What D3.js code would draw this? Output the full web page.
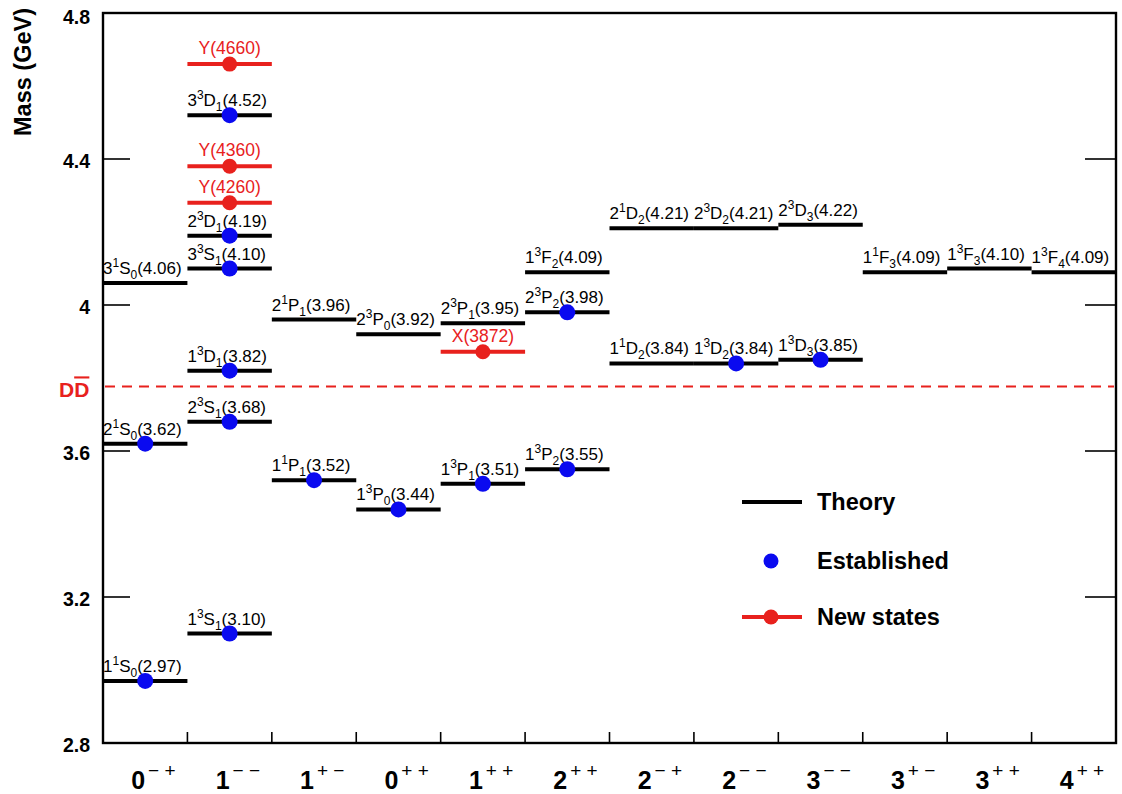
<!DOCTYPE html>
<html><head><meta charset="utf-8">
<script src="https://cdn.jsdelivr.net/npm/d3@7"></script>
<style>
html,body{margin:0;padding:0;background:#fff;}
text{font-family:Arial,"Liberation Sans",Helvetica,sans-serif;}
</style></head>
<body><svg id="c" width="1122" height="794"></svg>
<script>
// ---- data ----
const columns = ["0-+","1--","1+-","0++","1++","2++","2-+","2--","3--","3+-","3++","4++"];
const colJ = ["0","1","1","0","1","2","2","2","3","3","3","4"];
const colPC = ["\u2212 +","\u2212 \u2212","+ \u2212","+ +","+ +","+ +","\u2212 +","\u2212 \u2212","\u2212 \u2212","+ \u2212","+ +","+ +"];

// theory states
const thCol  = ["0-+","0-+","0-+","1--","1--","1--","1--","1--","1--","1+-","1+-","0++","0++","1++","1++","2++","2++","2++","2-+","2-+","2--","2--","3--","3--","3+-","3++","4++"];
const thN    = [1,2,3, 1,2,1,3,2,3, 1,2, 1,2, 1,2, 1,2,1, 1,2, 1,2, 1,2, 1,1,1];
const thS    = [1,1,1, 3,3,3,3,3,3, 1,1, 3,3, 3,3, 3,3,3, 1,1, 3,3, 3,3, 1,3,3];
const thL    = ["S","S","S","S","S","D","S","D","D","P","P","P","P","P","P","P","P","F","D","D","D","D","D","D","F","F","F"];
const thJ    = [0,0,0, 1,1,1,1,1,1, 1,1, 0,0, 1,1, 2,2,2, 2,2, 2,2, 3,3, 3,3,4];
const thMass = [2.97,3.62,4.06, 3.10,3.68,3.82,4.10,4.19,4.52, 3.52,3.96, 3.44,3.92, 3.51,3.95, 3.55,3.98,4.09, 3.84,4.21, 3.84,4.21, 3.85,4.22, 4.09,4.10,4.09];
const thEstablished = [true,true,false, true,true,true,true,true,true, true,false, true,false, true,false, true,true,false, false,false, true,false, true,false, false,false,false];

// new (exotic) states
const newNames = ["Y(4660)","Y(4360)","Y(4260)","X(3872)"];
const newCol   = ["1--","1--","1--","1++"];
const newMass  = [4.66,4.38,4.28,3.872];

const ddThreshold = 3.777;
const yTicks = [2.8,3.2,3.6,4.0,4.4,4.8];
const yTickLabels = ["2.8","3.2","3.6","4","4.4","4.8"];
const legendItems = ["Theory","Established","New states"];

// ---- layout ----
const L = 103, R = 1116, T = 13, B = 743;
const RED = "#e8211d", BLUE = "#0a0af0";
const svg = d3.select("#c");
const x = d3.scaleBand().domain(columns).range([L, R]).padding(0);
const y = d3.scaleLinear().domain([2.8, 4.8]).range([B, T]);

// frame
svg.append("rect").attr("x",L).attr("y",T).attr("width",R-L).attr("height",B-T)
  .attr("fill","none").attr("stroke","#000").attr("stroke-width",2.4);

// y ticks (inner, both sides)
const midTicks = yTicks.filter(v => v > 2.8 && v < 4.8);
svg.append("g").selectAll("line").data(midTicks).join("line")
  .attr("x1",L).attr("x2",L+27).attr("y1",d=>y(d)).attr("y2",d=>y(d))
  .attr("stroke","#000").attr("stroke-width",1.6);
svg.append("g").selectAll("line").data(midTicks).join("line")
  .attr("x1",R-31).attr("x2",R).attr("y1",d=>y(d)).attr("y2",d=>y(d))
  .attr("stroke","#000").attr("stroke-width",1.6);
svg.append("g").selectAll("text").data(yTicks).join("text")
  .attr("x",90).attr("y",(d)=>y(d)+ (d===4.8?11:9))
  .attr("text-anchor","end").attr("font-size",19.5).attr("font-weight","bold")
  .text((d,i)=>yTickLabels[i]);

// y label
svg.append("text").attr("transform","translate(31,8) rotate(-90)")
  .attr("text-anchor","end").attr("font-size",23.5).attr("font-weight","bold")
  .text("Mass (GeV)");

// x ticks at column boundaries
const bounds = columns.slice(1).map(c => x(c));
svg.append("g").selectAll("line").data(bounds).join("line")
  .attr("x1",d=>d).attr("x2",d=>d).attr("y1",B).attr("y2",B-11)
  .attr("stroke","#000").attr("stroke-width",1.6);

// x labels
const xl = svg.append("g").selectAll("text").data(columns).join("text")
  .attr("x",d=>x(d)+x.bandwidth()/2-14).attr("y",789)
  .attr("font-size",25).attr("font-weight","bold");
xl.append("tspan").text((d,i)=>colJ[i]);
xl.append("tspan").attr("dx",3).attr("dy",-12).attr("font-size",19).attr("font-weight","normal")
  .attr("xml:space","preserve").style("white-space","pre").text((d,i)=>colPC[i]);

// DD threshold
svg.append("line").attr("x1",L+2).attr("x2",R-2).attr("y1",y(ddThreshold)).attr("y2",y(ddThreshold))
  .attr("stroke",RED).attr("stroke-width",2).attr("stroke-dasharray","10,7");
const dd = svg.append("text").attr("x",59).attr("y",y(ddThreshold)+11)
  .attr("font-family","'DejaVu Serif','Liberation Serif',serif").attr("font-size",21)
  .attr("font-weight","bold").attr("fill",RED);
dd.append("tspan").text("D");
dd.append("tspan").attr("text-decoration","overline").style("text-decoration","overline").text("D");

// theory levels
const theory = thCol.map((c,i)=>({c, n:thN[i], s:thS[i], l:thL[i], j:thJ[i], m:thMass[i], est:thEstablished[i]}));
svg.append("g").selectAll("line").data(theory).join("line")
  .attr("x1",d=>x(d.c)).attr("x2",d=>x(d.c)+x.bandwidth())
  .attr("y1",d=>y(d.m)).attr("y2",d=>y(d.m))
  .attr("stroke","#000").attr("stroke-width",4);

const lab = svg.append("g").selectAll("text").data(theory).join("text")
  .attr("x",d=>x(d.c)).attr("y",d=>y(d.m)-9)
  .attr("font-size",17).attr("fill","#000");
lab.append("tspan").text(d=>d.n);
lab.append("tspan").attr("dy",-7).attr("font-size",12).text(d=>d.s);
lab.append("tspan").attr("dy",7).text(d=>d.l);
lab.append("tspan").attr("dy",5).attr("font-size",12).text(d=>d.j);
lab.append("tspan").attr("dy",-5).text(d=>"(" + d.m.toFixed(2) + ")");

// new states
const news = newNames.map((n,i)=>({n, c:newCol[i], m:newMass[i]}));
svg.append("g").selectAll("line").data(news).join("line")
  .attr("x1",d=>x(d.c)).attr("x2",d=>x(d.c)+x.bandwidth())
  .attr("y1",d=>y(d.m)).attr("y2",d=>y(d.m))
  .attr("stroke",RED).attr("stroke-width",4);
svg.append("g").selectAll("text").data(news).join("text")
  .attr("x",d=>x(d.c)+x.bandwidth()/2).attr("y",d=>y(d.m)-10)
  .attr("text-anchor","middle").attr("font-size",17.5).attr("fill",RED)
  .text(d=>d.n);
svg.append("g").selectAll("circle").data(news).join("circle")
  .attr("cx",d=>x(d.c)+x.bandwidth()/2).attr("cy",d=>y(d.m)).attr("r",7.5)
  .attr("fill",RED);

// established dots
svg.append("g").selectAll("circle").data(theory.filter(d=>d.est)).join("circle")
  .attr("cx",d=>x(d.c)+x.bandwidth()/2).attr("cy",d=>y(d.m)).attr("r",8)
  .attr("fill",BLUE);

// legend
const lg = svg.append("g");
const ly = [502, 561, 617];
lg.append("line").attr("x1",742).attr("x2",802).attr("y1",ly[0]).attr("y2",ly[0]).attr("stroke","#000").attr("stroke-width",4);
lg.append("circle").attr("cx",771).attr("cy",ly[1]).attr("r",7.5).attr("fill",BLUE);
lg.append("line").attr("x1",742).attr("x2",802).attr("y1",ly[2]).attr("y2",ly[2]).attr("stroke",RED).attr("stroke-width",4);
lg.append("circle").attr("cx",771).attr("cy",ly[2]).attr("r",7.5).attr("fill",RED);
lg.selectAll("text").data(legendItems).join("text")
  .attr("x",817).attr("y",(d,i)=>ly[i]+8).attr("font-size",23.5).attr("font-weight","bold")
  .text(d=>d);
</script></body></html>
